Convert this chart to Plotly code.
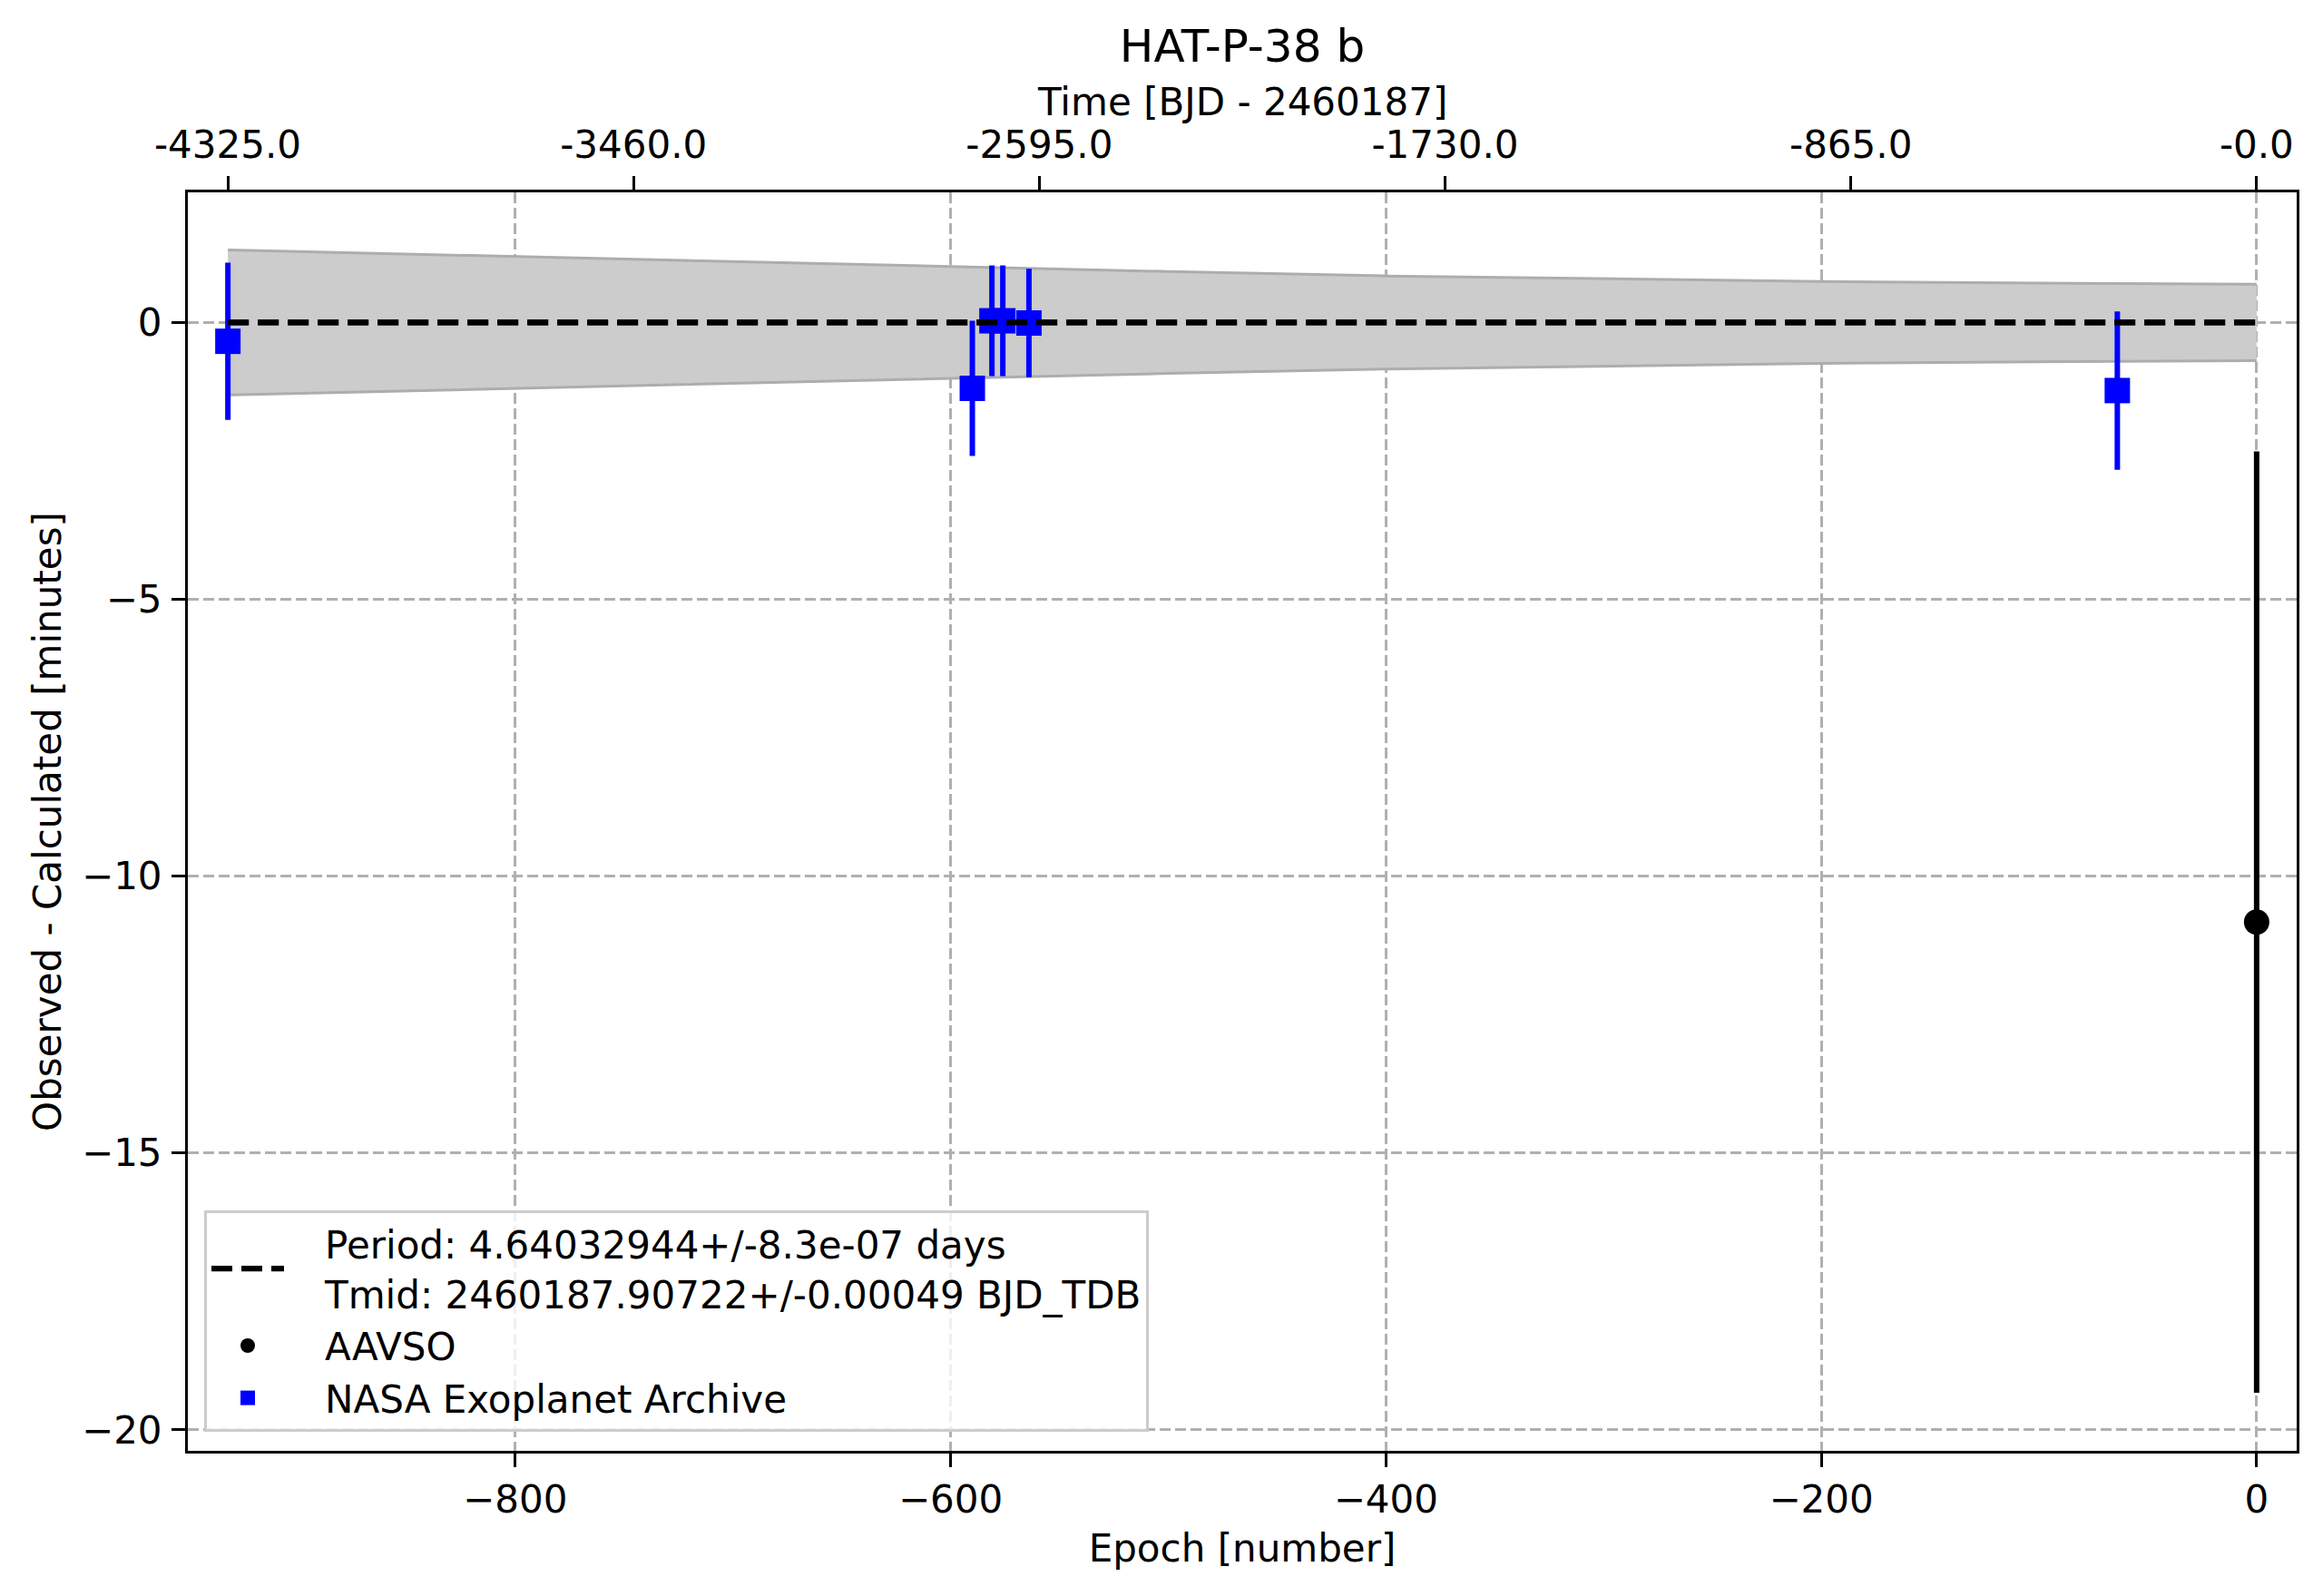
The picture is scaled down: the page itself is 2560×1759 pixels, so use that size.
import plotly.graph_objects as go

# ephemeris from the legend
period = 4.64032944
fit_lines = ["Period: 4.64032944+/-8.3e-07 days", "Tmid: 2460187.90722+/-0.00049 BJD_TDB"]

# NASA Exoplanet Archive transits (epoch, O-C minutes, error minutes)
nasa_epoch = [-932, -590, -581, -576, -564, -64]
nasa_oc = [-0.34, -1.19, 0.03, 0.03, -0.01, -1.23]
nasa_err = [1.42, 1.22, 1.0, 1.0, 0.98, 1.43]

# AAVSO transit
aavso_epoch = [0]
aavso_oc = [-10.83]
aavso_err = [8.5]

# ephemeris uncertainty band (half width in minutes)
band_epoch = [-932, -800, -700, -600, -500, -400, -300, -200, -100, 0]
band_half = [1.31, 1.19, 1.09, 1.0, 0.92, 0.84, 0.79, 0.74, 0.71, 0.69]

# linear ephemeris line
model_epoch = [-932, 0]
model_oc = [0, 0]

# axis ticks
epoch_ticks = [-800, -600, -400, -200, 0]
epoch_labels = ["\u2212800", "\u2212600", "\u2212400", "\u2212200", "0"]
oc_ticks = [-20, -15, -10, -5, 0]
oc_labels = ["\u221220", "\u221215", "\u221210", "\u22125", "0"]
time_ticks = [-4325.0, -3460.0, -2595.0, -1730.0, -865.0, -0.0]
time_labels = ["-4325.0", "-3460.0", "-2595.0", "-1730.0", "-865.0", "-0.0"]

FONT = "DejaVu Sans"
x_range = [-950.4, 18.4]

# page body adds 8px around the figure
W, H = 2544, 1743
ML, MR, MT, MB = 199, 21, 204, 152
plot_w = W - ML - MR
plot_h = H - MT - MB

pad = "\u00a0\u00a0\u00a0"  # push legend text right of the shorter symbol

fig = go.Figure()

band_hi = [h for h in band_half]
band_lo = [-h for h in band_half]
fig.add_scatter(x=band_epoch, y=band_hi, mode="lines",
                line=dict(color="#adadad", width=3), showlegend=False, hoverinfo="skip")
fig.add_scatter(x=band_epoch, y=band_lo, mode="lines", fill="tonexty",
                fillcolor="#cccccc", line=dict(color="#adadad", width=3),
                showlegend=False, hoverinfo="skip")

fig.add_scatter(x=model_epoch, y=model_oc, mode="lines",
                name="<br>".join(pad + s for s in fit_lines),
                legendgroup="fit",
                line=dict(color="black", width=6.25, dash="23px,10px"))

fig.add_scatter(x=aavso_epoch, y=aavso_oc, mode="markers", name=pad + "AAVSO",
                legendgroup="aavso",
                marker=dict(symbol="circle", size=28, color="black"),
                error_y=dict(type="data", array=aavso_err, color="black",
                             thickness=6, width=0))

fig.add_scatter(x=nasa_epoch, y=nasa_oc, mode="markers", name=pad + "NASA Exoplanet Archive",
                legendgroup="nasa",
                marker=dict(symbol="square", size=28, color="blue"),
                error_y=dict(type="data", array=nasa_err, color="blue",
                             thickness=6, width=0))

# draw the ephemeris line on top of the markers, as in the original
fig.add_scatter(x=model_epoch, y=model_oc, mode="lines", showlegend=False,
                line=dict(color="black", width=6.25, dash="23px,10px"), hoverinfo="skip")

# invisible trace to carry the top time axis
fig.add_scatter(x=x_range, y=[0, 0], xaxis="x2", mode="lines",
                line=dict(width=0), showlegend=False, hoverinfo="skip")

axis_common = dict(
    showline=True, linecolor="black", linewidth=3,
    ticks="outside", ticklen=15, tickwidth=3, tickcolor="black",
    tickfont=dict(family=FONT, size=42, color="black"),
    zeroline=False,
)

fig.update_layout(
    width=W, height=H,
    margin=dict(l=ML, r=MR, t=MT, b=MB),
    paper_bgcolor="white", plot_bgcolor="white",
    font=dict(family=FONT, size=42, color="black"),
    title=dict(text="HAT-P-38 b", x=(ML + plot_w / 2) / W, xanchor="center",
               y=1 - 42 / H, yanchor="middle", yref="container",
               font=dict(family=FONT, size=50, color="black")),
    xaxis=dict(
        range=x_range, tickvals=epoch_ticks, ticktext=epoch_labels,
        showgrid=True, gridcolor="#b0b0b0", gridwidth=3, griddash="12px,5px",
        mirror=True, ticklabelstandoff=0,
        title=dict(text="Epoch [number]", standoff=16,
                   font=dict(family=FONT, size=42, color="black")),
        **axis_common,
    ),
    xaxis2=dict(
        range=x_range, overlaying="x", side="top",
        tickvals=[t / period for t in time_ticks], ticktext=time_labels,
        showgrid=False, ticklabelstandoff=3,
        **axis_common,
    ),
    yaxis=dict(
        range=[-20.38, 2.35], tickvals=oc_ticks, ticktext=oc_labels,
        showgrid=True, gridcolor="#b0b0b0", gridwidth=3, griddash="12px,5px",
        mirror=True, ticklabelstandoff=2,
        title=dict(text="Observed - Calculated [minutes]", standoff=10,
                   font=dict(family=FONT, size=42, color="black")),
        **axis_common,
    ),
    legend=dict(
        x=18 / plot_w, y=21 / plot_h, xanchor="left", yanchor="bottom",
        bgcolor="rgba(255,255,255,0.8)", bordercolor="#cccccc", borderwidth=3,
        font=dict(family=FONT, size=42, color="black"),
        traceorder="normal", tracegroupgap=10, itemwidth=80,
    ),
    showlegend=True,
)

# top axis title
fig.add_annotation(text="Time [BJD - 2460187]", xref="paper", yref="paper",
                   x=0.5, y=(plot_h + 100) / plot_h, xanchor="center", yanchor="middle",
                   showarrow=False, font=dict(family=FONT, size=42, color="black"))

fig.write_html("out.html")
